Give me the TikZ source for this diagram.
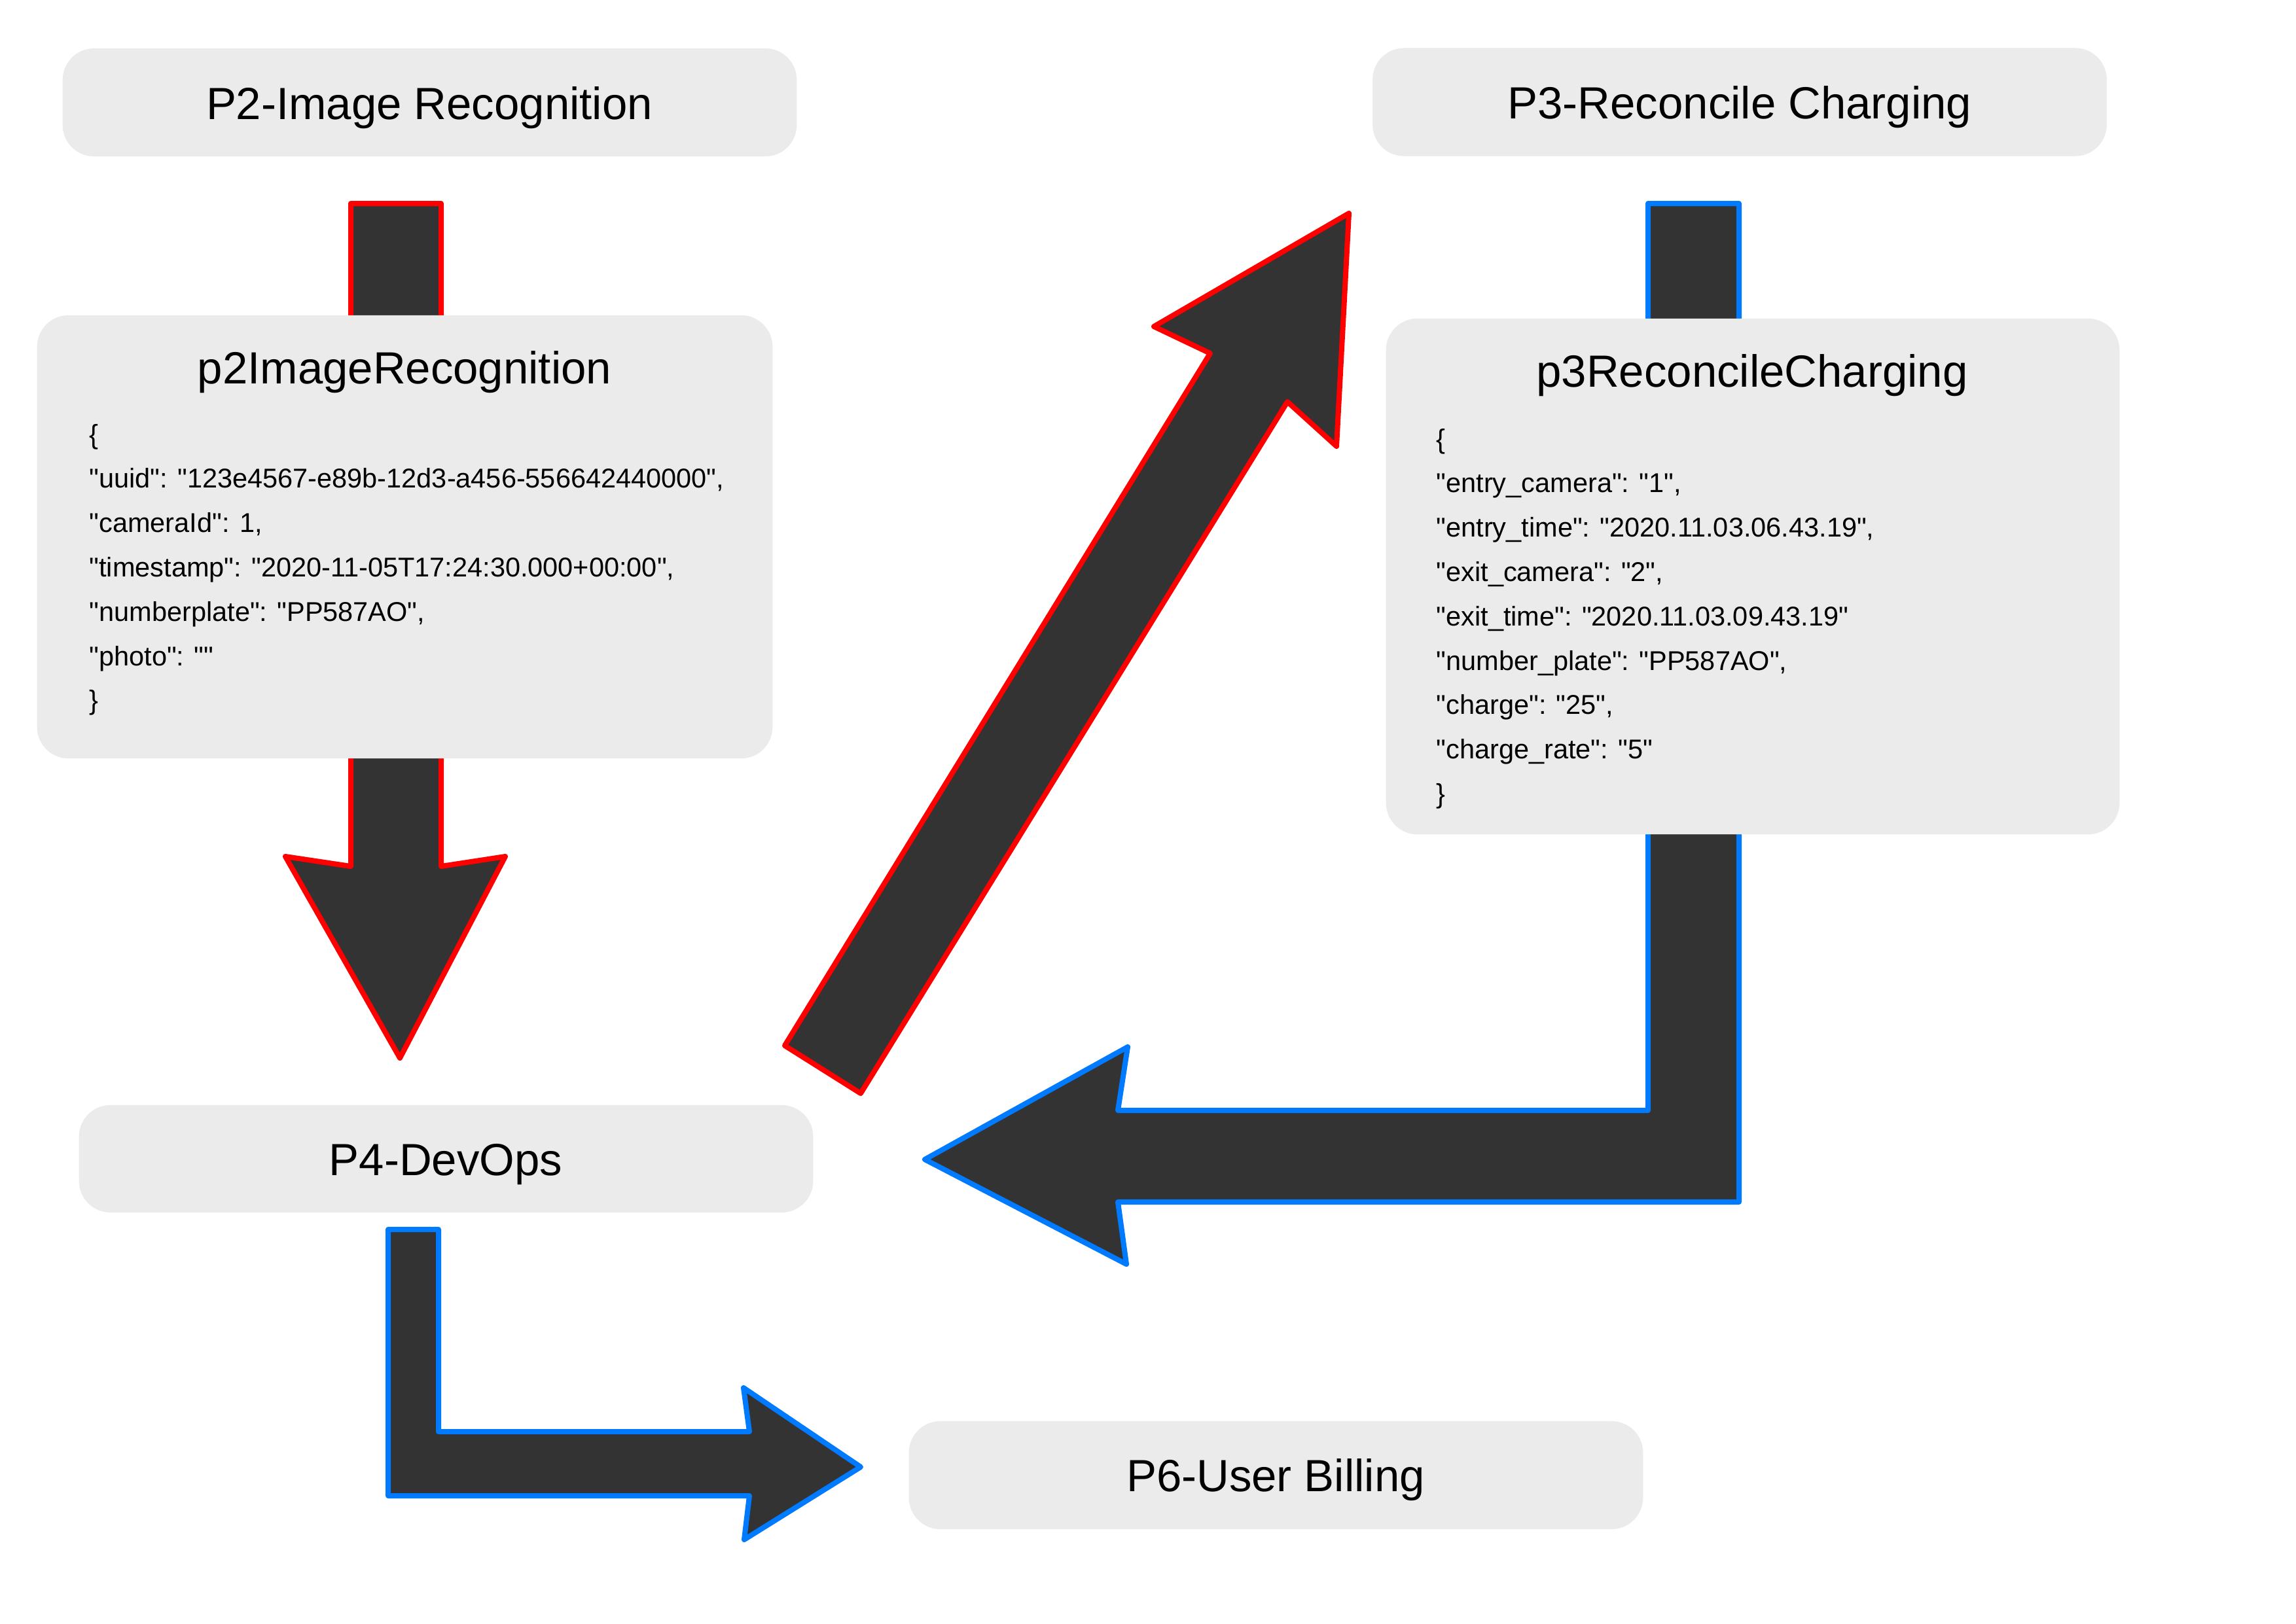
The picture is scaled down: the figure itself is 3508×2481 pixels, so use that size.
\documentclass[tikz,border=0pt]{standalone}
\usepackage{fontspec}
\setmainfont{Liberation Sans}[Ligatures=TeXOff]
\definecolor{boxgray}{RGB}{235,235,235}
\definecolor{arrowfill}{RGB}{51,51,51}
\definecolor{redline}{RGB}{255,0,0}
\definecolor{blueline}{RGB}{0,122,255}
\begin{document}
\begin{tikzpicture}[x=0.01cm,y=-0.01cm,
  blockarrow/.style={fill=arrowfill, line width=0.08cm, line join=round},
  redarrow/.style={blockarrow, draw=redline},
  bluearrow/.style={blockarrow, draw=blueline},
  box/.style={fill=boxgray, rounded corners=0.48cm, inner sep=0pt, minimum width=11.21cm},
  title/.style={font=\fontsize{19.6pt}{23pt}\selectfont, anchor=base, inner sep=0pt},
  json/.style={font=\fontsize{11.8pt}{19.3pt}\selectfont, anchor=base west, inner sep=0pt}]
\useasboundingbox (0,0) rectangle (3508,2481);
\fill[white] (0,0) rectangle (3508,2481);

% block arrows (behind boxes)
\draw[redarrow] (536,311) -- (674,311) -- (674,1324) -- (772,1309) -- (611,1617)
  -- (436,1309) -- (536,1324) -- cycle;
\draw[redarrow] (1199,1598) -- (1849,540) -- (1763,499) -- (2061,326) -- (2042,682)
  -- (1967,614) -- (1315,1671) -- cycle;
\draw[bluearrow] (2518,311) -- (2657,311) -- (2657,1837) -- (1708,1837) -- (1721,1932)
  -- (1413,1772) -- (1723,1600) -- (1708,1697) -- (2518,1697) -- cycle;
\draw[bluearrow] (593,1879) -- (670,1879) -- (670,2188) -- (1145,2188) -- (1136,2121)
  -- (1315,2242) -- (1137,2353) -- (1145,2286) -- (593,2286) -- cycle;

% boxes
\node[box, minimum height=1.65cm] (p2box) at (656.5,156.5) {};
\node[box, minimum height=1.65cm] (p3box) at (2658,156) {};
\node[box, minimum height=6.77cm, minimum width=11.23cm] (p2json) at (618.5,820.5) {};
\node[box, minimum height=7.88cm, minimum width=11.20cm] (p3json) at (2678,881) {};
\node[box, minimum height=1.64cm] (p4box) at (681.5,1771) {};
\node[box, minimum height=1.65cm] (p6box) at (1949.5,2254.5) {};

% titles
\node[title] (p2t) at (656,182) {P2-Image Recognition};
\node[title] (p3t) at (2658,181) {P3-Reconcile Charging};
\node[title] (p2jt) at (618,586) {p2ImageRecognition};
\node[title] (p3jt) at (2677,591) {p3ReconcileCharging};
\node[title] (p4t) at (681,1796) {P4-DevOps};
\node[title] (p6t) at (1949,2279) {P6-User Billing};

% json lines
\foreach \t [count=\i] in {{\{},
  {"uuid": "123e4567-e89b-12d3-a456-556642440000",},
  {"cameraId": 1,},
  {"timestamp": "2020-11-05T17:24:30.000+00:00",},
  {"numberplate": "PP587AO",},
  {"photo": ""},
  {\}}}
  \node[json, name=pa\i] at (136,{678+(\i-1)*67.8}) {\t};
\foreach \t [count=\i] in {{\{},
  {"entry\_camera": "1",},
  {"entry\_time": "2020.11.03.06.43.19",},
  {"exit\_camera": "2",},
  {"exit\_time": "2020.11.03.09.43.19"},
  {"number\_plate": "PP587AO",},
  {"charge": "25",},
  {"charge\_rate": "5"},
  {\}}}
  \node[json, name=pb\i] at (2194,{685+(\i-1)*67.8}) {\t};
\end{tikzpicture}
\end{document}
